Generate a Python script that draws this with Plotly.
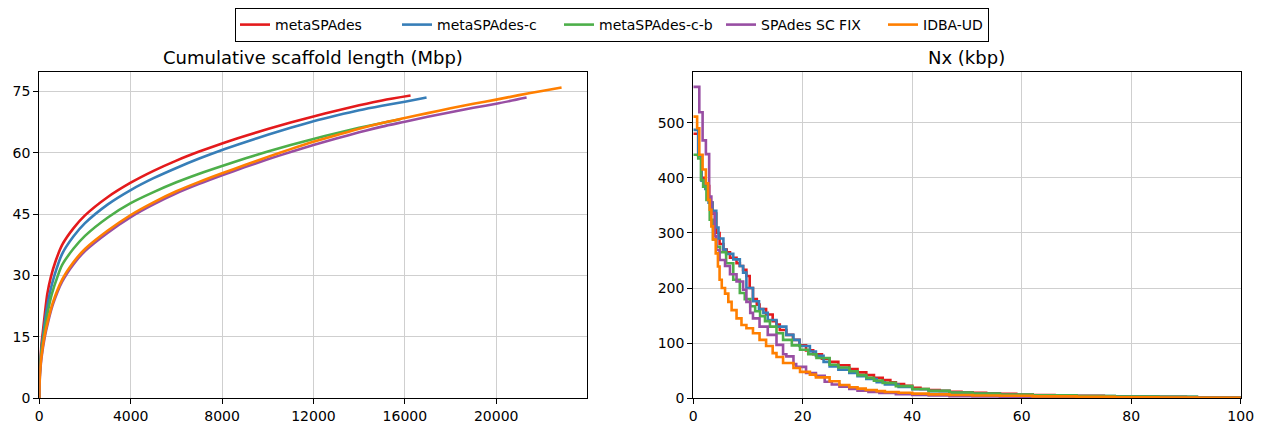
import plotly.graph_objects as go

# ---------------- data ----------------
names = ["metaSPAdes", "metaSPAdes-c", "metaSPAdes-c-b", "SPAdes SC FIX", "IDBA-UD"]
colors = ["#e41a1c", "#377eb8", "#4daf4a", "#984ea3", "#ff7f00"]

# Cumulative scaffold length (Mbp) vs. number of scaffolds
cum_red_x = [0, 10, 40, 100, 150, 250, 350, 500, 700, 1000, 1500, 2000, 3000, 4000, 5000, 6000, 7000,
             8000, 9000, 10000, 11000, 12000, 13000, 14000, 15000, 16250]
cum_red_y = [0, 4.5, 9, 13.5, 16, 21, 25.5, 29.5, 33.3, 37.5, 41.6, 44.7, 49.2, 52.7, 55.6, 58.1, 60.3,
             62.3, 64.1, 65.8, 67.4, 68.9, 70.3, 71.6, 72.8, 74.0]

cum_blue_x = [0, 10, 40, 100, 170, 300, 450, 650, 1000, 1500, 2000, 3000, 4000, 5000, 6000, 7000,
              8000, 9000, 10000, 11000, 12000, 13000, 14000, 15000, 16000, 16950]
cum_blue_y = [0, 4, 8.5, 12.5, 15.5, 21, 25.5, 29.8, 35.3, 39.6, 42.8, 47.4, 50.9, 53.8, 56.3, 58.6,
              60.7, 62.6, 64.4, 66.1, 67.7, 69.1, 70.4, 71.5, 72.5, 73.5]

cum_green_x = [0, 10, 40, 100, 190, 350, 550, 800, 1000, 1500, 2000, 3000, 4000, 5000, 6000, 7000,
               8000, 9000, 10000, 11000, 12000, 13000, 14000, 15000, 15800]
cum_green_y = [0, 3.8, 8, 11.8, 15, 20.5, 25.5, 29.8, 32.6, 36.6, 39.7, 44.2, 47.7, 50.4, 52.8, 54.9,
               56.8, 58.6, 60.3, 61.9, 63.4, 64.8, 66.1, 67.3, 68.2]

cum_purple_x = [0, 10, 40, 100, 240, 400, 600, 1000, 1500, 2000, 3000, 4000, 5000, 6000, 7000, 8000,
                9000, 10000, 11000, 12000, 13000, 14000, 15000, 16000, 17000, 18000, 19000, 20000, 21330]
cum_purple_y = [0, 3, 6.5, 10, 15, 19, 23, 28.5, 32.8, 36, 40.5, 44.3, 47.4, 50.1, 52.4, 54.5,
                56.5, 58.4, 60.2, 61.9, 63.5, 65, 66.4, 67.6, 68.8, 69.9, 71.0, 72.0, 73.5]

cum_orange_x = [0, 10, 40, 100, 220, 400, 600, 1000, 1500, 2000, 3000, 4000, 5000, 6000, 7000, 8000,
                9000, 10000, 11000, 12000, 13000, 14000, 15000, 16000, 17000, 18000, 19000, 20000,
                21000, 22000, 22860]
cum_orange_y = [0, 3.2, 7, 10.5, 15, 19.5, 23.5, 29, 33.3, 36.5, 41, 44.8, 47.9, 50.6, 52.9, 55,
                57, 59, 60.9, 62.7, 64.3, 65.9, 67.3, 68.5, 69.7, 70.9, 72.0, 73.0,
                74.1, 75.1, 75.95]

# Nx (kbp) vs x (%)
nx_red_x = [0, 0.9, 1.5, 2.2, 2.9, 3.5, 4.2, 4.8, 5.5, 6.1, 6.7, 7.9, 8.5, 9.1, 9.7, 10.3, 10.9, 11.6,
            12.1, 13.3, 14.5, 15.2, 15.8, 17.0, 18.2, 19.4, 20.6, 21.9, 23.5, 24.9, 26.5, 28.5, 30.0,
            31.6, 33.0, 34.6, 36.0, 37.0, 38.5, 40.0, 41.5, 43.0, 45.0, 46.8, 49.0, 51.0, 53.5, 56.0,
            59.0, 62.0, 66.0, 70.0, 75.0, 80.0, 85.0, 90.0, 95.0, 100]
nx_red_y = [480, 440, 400, 385, 355, 335, 300, 280, 270, 265, 255, 245, 240, 233, 222, 200, 180, 170,
            162, 152, 140, 134, 124, 115, 106, 96, 87, 80, 72, 66, 60, 53, 47,
            42, 37, 33, 29, 26, 22.5, 19, 17, 15, 13.5, 12, 11, 10, 9, 8,
            7, 6, 5.2, 4.5, 3.7, 3, 2.5, 2, 1.7, 1.5]

nx_blue_x = [0, 0.9, 1.5, 2.2, 2.8, 3.5, 4.2, 4.6, 5.5, 6.0, 7.3, 8.5, 9.1, 9.7, 10.9, 12.0, 12.8,
             13.6, 15.2, 17.0, 18.3, 19.4, 21.3, 22.4, 23.8, 24.9, 26.5, 28.5, 30.0, 31.6, 33.5,
             35.0, 37.5, 40.0, 43.0, 46.8, 51.0, 56.0, 62.0, 70.0, 77.0, 85.0, 92.0, 100]
nx_blue_y = [487, 440, 395, 380, 355, 340, 310, 290, 270, 262, 252, 240, 228, 200, 176, 162, 155,
             142, 130, 115, 106, 95, 85, 77, 66, 58, 52, 46, 40, 35, 29,
             25, 20.5, 16.5, 13, 10, 8, 6, 5, 4, 3.2, 2.5, 1.8, 1.2]

nx_green_x = [0, 0.9, 1.4, 1.8, 2.4, 3.0, 3.6, 4.2, 4.9, 6.0, 7.3, 8.5, 9.4, 10.4, 11.3, 12.2, 13.1,
              14.0, 15.2, 16.4, 18.0, 19.5, 21.0, 22.5, 24.9, 26.5, 28.5, 30.0, 31.6, 33.0, 34.6,
              37.0, 40.0, 43.0, 46.8, 51.0, 56.0, 62.0, 70.0, 77.0, 85.0, 92.0, 100]
nx_green_y = [442, 435, 396, 384, 360, 324, 288, 275, 265, 245, 215, 191, 180, 167, 158, 149, 140,
              130, 118, 106, 96, 88, 80, 73, 61, 56, 49, 42, 37, 32, 28,
              22, 17, 13.5, 10.5, 8.5, 7, 5.5, 4, 3.2, 2.5, 1.8, 1.3]

nx_purple_x = [0, 1.1, 1.7, 2.3, 2.9, 3.3, 3.9, 4.2, 4.8, 5.8, 6.7, 7.9, 9.1, 9.7, 10.4, 10.9, 12.1,
               13.6, 15.2, 16.4, 17.0, 18.3, 18.8, 20.6, 22.4, 24.0, 25.3, 26.7, 28.5, 30.0, 32.0,
               34.0, 37.0, 40.0, 43.0, 46.8, 51.0, 56.0, 62.0, 70.0, 77.0, 85.0, 92.0, 100]
nx_purple_y = [565, 519, 468, 443, 366, 336, 294, 269, 251, 240, 225, 212, 197, 175, 155, 145, 130,
               115, 97, 80, 76, 62, 57, 46, 41, 30, 25, 21, 17, 14, 11.5,
               9.5, 7.5, 6, 5, 4, 3.2, 2.5, 2, 1.5, 1.2, 1.0, 0.8, 0.6]

nx_orange_x = [0, 0.7, 1.1, 1.7, 2.3, 2.7, 3.0, 3.3, 3.6, 4.1, 4.5, 4.8, 5.2, 5.8, 6.4, 7.0, 7.9,
               8.8, 9.7, 10.9, 12.1, 13.3, 14.5, 15.2, 16.4, 18.3, 19.5, 21.3, 22.4, 24.9, 26.7,
               28.5, 30.0, 31.5, 33.5, 35.0, 37.5, 40.0, 43.0, 46.8, 51.0, 56.0, 62.0, 70.0, 77.0,
               85.0, 92.0, 100]
nx_orange_y = [511, 490, 442, 415, 390, 360, 342, 312, 288, 263, 239, 215, 200, 190, 175, 160, 145,
               133, 127, 118, 106, 95, 82, 75, 64, 55, 48, 43, 38, 31, 24,
               20, 17.5, 15, 13, 11.5, 10, 8.5, 7.2, 6, 5.2, 4.5, 3.5, 2.5, 2,
               1.5, 1.1, 0.8]

left_xticks = [0, 4000, 8000, 12000, 16000, 20000]
left_xticktext = ["0", "4000", "8000", "12000", "16000", "20000"]
left_yticks = [0, 15, 30, 45, 60, 75]
right_xticks = [0, 20, 40, 60, 80, 100]
right_yticks = [0, 100, 200, 300, 400, 500]
titles = ["Cumulative scaffold length (Mbp)", "Nx (kbp)"]

# ---------------- figure ----------------
W, H = 1264, 429
OFF = 8  # page body margin in the browser
FONT = "DejaVu Sans"
fig = go.Figure()

cum_x = [cum_red_x, cum_blue_x, cum_green_x, cum_purple_x, cum_orange_x]
cum_y = [cum_red_y, cum_blue_y, cum_green_y, cum_purple_y, cum_orange_y]
nx_x = [nx_red_x, nx_blue_x, nx_green_x, nx_purple_x, nx_orange_x]
nx_y = [nx_red_y, nx_blue_y, nx_green_y, nx_purple_y, nx_orange_y]

for i in range(5):
    kw = {}
    if i == 4:
        kw["legendwidth"] = 60
    fig.add_trace(go.Scatter(x=cum_x[i], y=cum_y[i], mode="lines", name=names[i],
                             line=dict(color=colors[i], width=2.6, shape="spline", smoothing=0.8),
                             legendgroup=names[i], xaxis="x", yaxis="y", **kw))
for i in range(5):
    fig.add_trace(go.Scatter(x=nx_x[i], y=nx_y[i], mode="lines", name=names[i],
                             line=dict(color=colors[i], width=2.6, shape="hv"),
                             legendgroup=names[i], showlegend=False,
                             xaxis="x2", yaxis="y2"))


def px_x(p):
    return (p - OFF) / W


def px_y(p):
    return 1 - (p - OFF) / H


ydom = [px_y(398.3), px_y(72.0)]
axis_common = dict(showline=True, linecolor="black", linewidth=1.2, mirror=True,
                   showgrid=True, gridcolor="#cfcfcf", gridwidth=1,
                   ticks="outside", ticklen=5, tickwidth=1.1, tickcolor="black",
                   zeroline=False, automargin=False,
                   tickfont=dict(family=FONT, size=14, color="black"))

fig.update_layout(
    width=W, height=H,
    paper_bgcolor="white", plot_bgcolor="white",
    margin=dict(l=0, r=0, t=0, b=0, autoexpand=False),
    font=dict(family=FONT, color="black"),
    xaxis=dict(domain=[px_x(39.3), px_x(586.7)], range=[0, 23960], tickvals=left_xticks,
               ticktext=left_xticktext, anchor="y", **axis_common),
    yaxis=dict(domain=ydom, range=[0, 79.75], tickvals=left_yticks, anchor="x", **axis_common),
    xaxis2=dict(domain=[px_x(693.3), px_x(1240.7)], range=[0, 100], tickvals=right_xticks,
                anchor="y2", **axis_common),
    yaxis2=dict(domain=ydom, range=[0, 592], tickvals=right_yticks, anchor="x2", **axis_common),
    legend=dict(orientation="h", x=px_x(235), y=1.0, xanchor="left", yanchor="top",
                bgcolor="white", bordercolor="black", borderwidth=1,
                font=dict(family=FONT, size=14, color="black"),
                entrywidth=117, entrywidthmode="pixels", itemwidth=30),
    showlegend=True,
)

for k, (a, b) in enumerate([(39.3, 586.7), (693.3, 1240.7)]):
    fig.add_annotation(text=titles[k], x=(px_x(a) + px_x(b)) / 2, y=px_y(57),
                       xref="paper", yref="paper", showarrow=False,
                       xanchor="center", yanchor="middle",
                       font=dict(family=FONT, size=18, color="black"))

fig.write_html("out.html")
